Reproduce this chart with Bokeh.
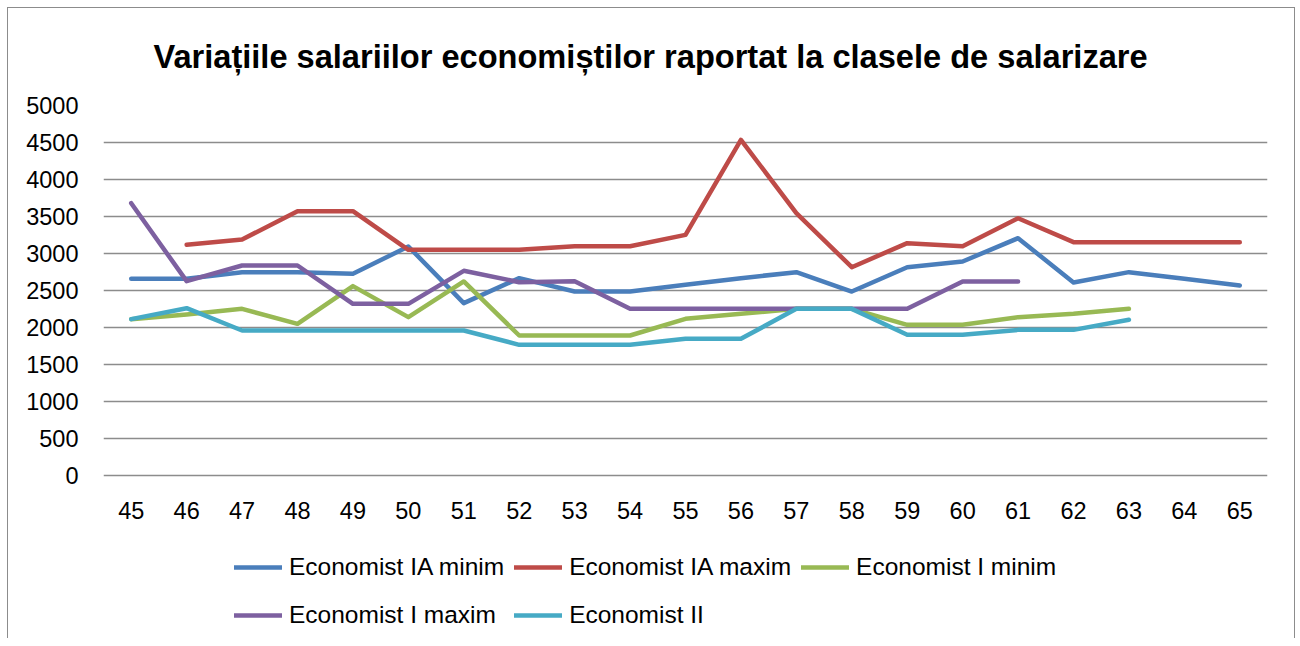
from bokeh.plotting import figure
from bokeh.models import Legend, LegendItem, FixedTicker, ColumnDataSource
from bokeh.core.properties import value
from bokeh.embed import file_html
from bokeh.resources import INLINE

nan = float("nan")

classes = [str(c) for c in range(45, 66)]
ia_minim = [2658, 2658, 2748, 2748, 2725, 3095, 2329, 2667, 2486, 2486, 2577,
            2667, 2748, 2486, 2815, 2892, 3207, 2608, 2748, 2660, 2568]
ia_maxim = [nan, 3117, 3189, 3572, 3572, 3050, 3050, 3050, 3099, 3099, 3252,
            4536, 3545, 2815, 3140, 3099, 3477, 3153, 3153, 3153, 3153]
i_minim = [2113, 2176, 2252, 2050, 2559, 2140, 2622, 1892, 1892, 1892, 2117,
           2185, 2252, 2252, 2036, 2036, 2140, 2185, 2252, nan, nan]
i_maxim = [3680, 2626, 2838, 2838, 2320, 2320, 2766, 2612, 2626, 2252, 2252,
           2252, 2252, 2252, 2252, 2622, 2622, nan, nan, nan, nan]
ii = [2113, 2261, 1959, 1959, 1959, 1959, 1959, 1766, 1766, 1766, 1847,
      1847, 2252, 2252, 1901, 1901, 1968, 1968, 2104, nan, nan]

series_names = ["Economist IA minim", "Economist IA maxim", "Economist I minim",
                "Economist I maxim", "Economist II"]
series_values = [ia_minim, ia_maxim, i_minim, i_maxim, ii]
series_colors = ["#4a7ebb", "#be4b48", "#98b954", "#7d60a0", "#46aac5"]
y_ticks = list(range(0, 5001, 500))
y_max = 5000

title_text = "Variațiile salariilor economiștilor raportat la clasele de salarizare"

FONT = "Liberation Sans"

# plot area: value axis 0..5000 over 370 px; the area below 0 hosts the
# category labels and the legend (kept inside the frame so nothing is clipped)
plot_px = 370
extra_px = 163
y_min = -y_max * extra_px / plot_px

p = figure(x_range=classes, y_range=(y_min, y_max),
           frame_width=1164, frame_height=plot_px + extra_px,
           min_border_left=95, min_border_right=27,
           min_border_top=97, min_border_bottom=0,
           x_axis_location=None,
           output_backend="svg", toolbar_location=None,
           title=title_text)

p.styles = {"margin-left": "7px", "margin-top": "7px",
            "border-left": "1px solid #8c8c8c",
            "border-top": "1px solid #8c8c8c",
            "border-right": "1px solid #8c8c8c"}

p.title.align = "left"
p.title.vertical_align = "top"
p.title.offset = 50
p.title.standoff = 58
p.title.text_font = FONT
p.title.text_font_style = "bold"
p.title.text_font_size = "32.6px"
p.title.text_color = "#000000"

p.outline_line_color = None
p.background_fill_color = "white"
p.border_fill_color = "white"

p.xgrid.grid_line_color = None
p.ygrid.grid_line_color = "#8c8c8c"
p.ygrid.grid_line_width = 1.5
p.yaxis.ticker = FixedTicker(ticks=y_ticks)
p.yaxis.major_tick_line_color = None
p.yaxis.minor_tick_line_color = None
p.yaxis.major_label_text_font = FONT
p.yaxis.major_label_text_font_size = "23.5px"
p.yaxis.major_label_text_color = "#000000"
p.yaxis.axis_line_color = None
p.yaxis.major_label_standoff = 19

# category labels along the zero line
cat_src = ColumnDataSource(dict(x=classes, y=[0] * len(classes), t=classes))
p.text("x", "y", text="t", source=cat_src, y_offset=35,
       text_align="center", text_baseline="middle",
       text_font=value(FONT), text_font_size="23.5px", text_color="#000000")

items = []
for name, vals, col in zip(series_names, series_values, series_colors):
    src = ColumnDataSource(dict(x=classes, y=vals))
    r = p.line("x", "y", source=src, line_color=col, line_width=4.5,
               line_join="round", line_cap="round")
    items.append(LegendItem(label=name, renderers=[r]))

legend = Legend(items=items, ncols=3, orientation="horizontal",
                location=(131, 4),
                glyph_width=48, glyph_height=38, label_height=38,
                label_standoff=7, spacing=10, padding=0, margin=0,
                label_text_font=FONT,
                label_text_font_size="24.5px", label_text_color="#000000",
                border_line_color=None, background_fill_alpha=0)
p.add_layout(legend, "center")

open("out.html", "w").write(file_html(p, INLINE))
